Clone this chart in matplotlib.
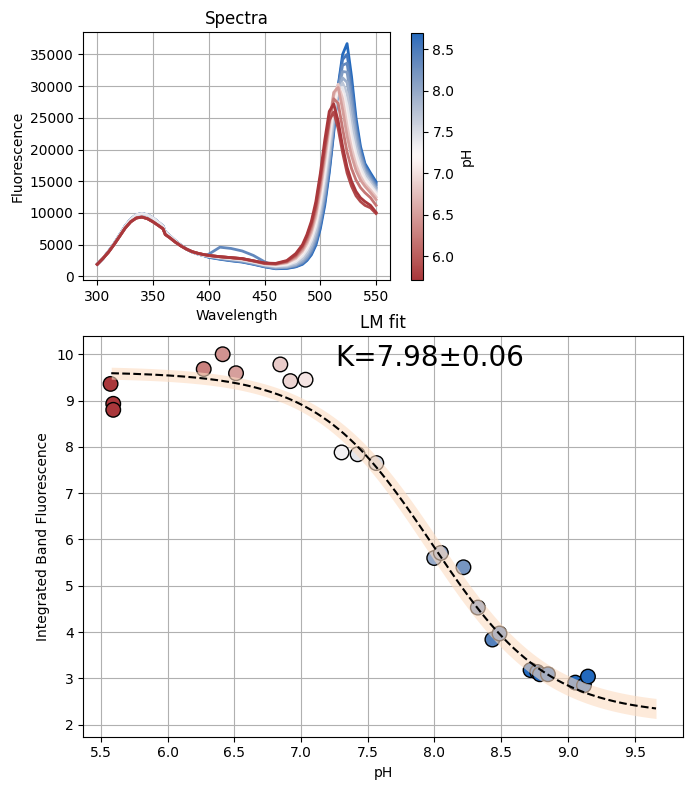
import numpy as np
import matplotlib
matplotlib.use("Agg")
import matplotlib.pyplot as plt
import seaborn as sns
from matplotlib.colors import Normalize

# --- spectra data -------------------------------------------------------
spec_ph = [8.70, 8.55, 8.35, 8.15, 7.95, 7.70, 7.40, 7.10, 6.80, 6.50, 6.20, 5.85, 5.71]

uv_wl = [300, 305, 310, 315, 320, 325, 330, 335, 340, 345, 350, 355, 359, 361,
         365, 370, 375, 380, 385, 390, 395]
uv_acid = [1900, 2800, 3800, 5000, 6300, 7600, 8600, 9200, 9350, 9100, 8600, 8000,
           7500, 6600, 6100, 5400, 4800, 4300, 3900, 3650, 3450]
uv_base = [1900, 2800, 3900, 5100, 6500, 7900, 9000, 9700, 9900, 9700, 9200, 8500,
           7900, 7000, 6400, 5600, 4900, 4300, 3850, 3550, 3300]

vis_wl = [400, 410, 420, 430, 440, 450, 460, 470, 478, 484, 488, 492, 496, 500,
          504, 508, 512, 516, 520, 524, 528, 532, 536, 540, 545, 550]
vis_spectra = [
    [3000, 2700, 2450, 2250, 1900, 1500, 1200, 1250, 1500, 1900, 2500, 3400, 4900,
     7500, 11200, 16300, 22600, 30000, 35000, 36700, 31500, 25000, 20500, 17800, 16300, 14900],
    [3050, 2750, 2500, 2300, 1950, 1550, 1250, 1300, 1550, 2000, 2600, 3600, 5200,
     7900, 11700, 16800, 23000, 29800, 34200, 35000, 30200, 24200, 20000, 17500, 16000, 14600],
    [3500, 4600, 4400, 4000, 3300, 2300, 1600, 1400, 1650, 2150, 2800, 3900, 5600,
     8400, 12300, 17400, 23500, 29700, 33300, 33600, 28800, 23300, 19500, 17200, 15700, 14300],
    [3100, 2800, 2550, 2350, 2000, 1600, 1300, 1450, 1750, 2300, 3000, 4200, 6000,
     8900, 12900, 18000, 24000, 29500, 32300, 32200, 27500, 22500, 19000, 16900, 15400, 14000],
    [3150, 2900, 2700, 2500, 2150, 1750, 1450, 1500, 1850, 2500, 3300, 4600, 6500,
     9500, 13600, 18700, 24500, 29300, 31300, 30600, 26000, 21500, 18500, 16500, 15100, 13800],
    [3200, 2950, 2750, 2550, 2200, 1800, 1550, 1650, 2050, 2800, 3700, 5100, 7100,
     10300, 14600, 19700, 25300, 29200, 30500, 28800, 24300, 20500, 17900, 16100, 14800, 13500],
    [3200, 3000, 2800, 2600, 2250, 1850, 1650, 1800, 2300, 3200, 4200, 5700, 7900,
     11300, 15800, 21000, 26500, 29600, 29800, 27000, 22600, 19400, 17200, 15600, 14400, 13200],
    [3250, 3000, 2850, 2650, 2300, 1900, 1750, 1950, 2600, 3600, 4700, 6300, 8600,
     12300, 17000, 22200, 27300, 29500, 28800, 25000, 21200, 18400, 16500, 15100, 14000, 12900],
    [3250, 3050, 2900, 2700, 2350, 1950, 1850, 2100, 2800, 3900, 5100, 6800, 9300,
     13200, 18000, 23200, 28500, 30300, 28000, 23700, 20200, 17600, 15800, 14600, 13600, 12500],
    [3300, 3100, 2950, 2750, 2400, 2000, 1900, 2200, 3000, 4200, 5500, 7300, 10000,
     14000, 19000, 24000, 29000, 29800, 26300, 22100, 19000, 16700, 15200, 14200, 13200, 12100],
    [3300, 3100, 2950, 2800, 2450, 2050, 1950, 2300, 3200, 4500, 5900, 7800, 10600,
     14800, 19800, 24500, 28000, 27300, 23300, 19600, 17000, 15200, 14000, 13200, 12400, 11200],
    [3300, 3100, 2950, 2800, 2450, 2100, 2000, 2400, 3400, 4800, 6300, 8300, 11200,
     15500, 20500, 24600, 25900, 23300, 19500, 16300, 14200, 12700, 11800, 11200, 10800, 9900],
    [3300, 3100, 2950, 2800, 2450, 2100, 2050, 2500, 3600, 5000, 6600, 8700, 11800,
     16200, 21500, 26000, 27200, 24500, 20500, 17200, 15000, 13400, 12400, 11800, 11200, 10100],
]

# --- integrated band data -----------------------------------------------
pts_ph = [5.573, 5.593, 5.593, 6.271, 6.413, 6.513, 6.845, 6.92, 7.034, 7.304,
          7.424, 7.564, 7.998, 8.048, 8.217, 8.325, 8.434, 8.487, 8.72, 8.77,
          8.79, 8.85, 9.055, 9.12, 9.15]
pts_val = [9.36, 8.93, 8.80, 9.68, 10.0, 9.59, 9.78, 9.42, 9.45, 7.88,
           7.84, 7.65, 5.60, 5.71, 5.40, 4.53, 3.84, 3.97, 3.18, 3.14,
           3.09, 3.09, 2.91, 2.85, 3.04]

# LM fit result
K, K_err = 7.98, 0.06
top, top_err = 9.62, 0.13
bottom, bottom_err = 2.2, 0.22
fit_range = (5.578, 9.66)

cmap = sns.color_palette("vlag_r", as_cmap=True)
norm = Normalize(vmin=min(spec_ph), vmax=max(spec_ph))

fig = plt.figure(figsize=(6.93, 7.89), dpi=100)
ax1 = fig.add_axes([0.1202, 0.6451, 0.4426, 0.3139])
cax = fig.add_axes([0.5926, 0.6451, 0.0173, 0.3134])
ax2 = fig.add_axes([0.1202, 0.0663, 0.8658, 0.5078])

for ph, vis in zip(spec_ph, vis_spectra):
    uv = uv_base if ph > 7.2 else uv_acid
    ax1.plot(uv_wl + vis_wl, uv + vis, color=cmap(norm(ph)), lw=2)
ax1.set_title("Spectra")
ax1.set_xlabel("Wavelength")
ax1.set_ylabel("Fluorescence")
ax1.set_xticks([300, 350, 400, 450, 500, 550])
ax1.set_yticks(range(0, 35001, 5000))
ax1.grid(True)

sm = plt.cm.ScalarMappable(norm=norm, cmap=cmap)
cb = fig.colorbar(sm, cax=cax)
cb.set_label("pH")

# fit curve and uncertainty band
xf = np.linspace(fit_range[0], fit_range[1], 200)
r = 10 ** (K - xf)
fa = r / (1 + r)
yf = bottom + (top - bottom) * fa
dk = (top - bottom) * np.log(10) * fa * (1 - fa) * K_err
err = np.sqrt(dk ** 2 + (fa * top_err) ** 2 + ((1 - fa) * bottom_err) ** 2)

ax2.scatter(pts_ph, pts_val, c=cmap(norm(np.clip(pts_ph, norm.vmin, norm.vmax))),
            s=110, edgecolors="black", linewidths=1, zorder=2)
ax2.fill_between(xf, yf - err, yf + err, color="#fddcc2", alpha=0.6, lw=0, zorder=3)
ax2.plot(xf, yf, "k--", lw=1.5, zorder=4)
ax2.text(7.26, 9.92, f"K={K:.2f}\u00b1{K_err:.2f}", fontsize=20, va="center")
ax2.set_title("LM fit")
ax2.set_xlabel("pH")
ax2.set_ylabel("Integrated Band Fluorescence")
ax2.set_xticks(np.arange(5.5, 9.51, 0.5))
ax2.grid(True)
ax2.set_axisbelow(True)

fig.savefig("out.png", dpi=100)
